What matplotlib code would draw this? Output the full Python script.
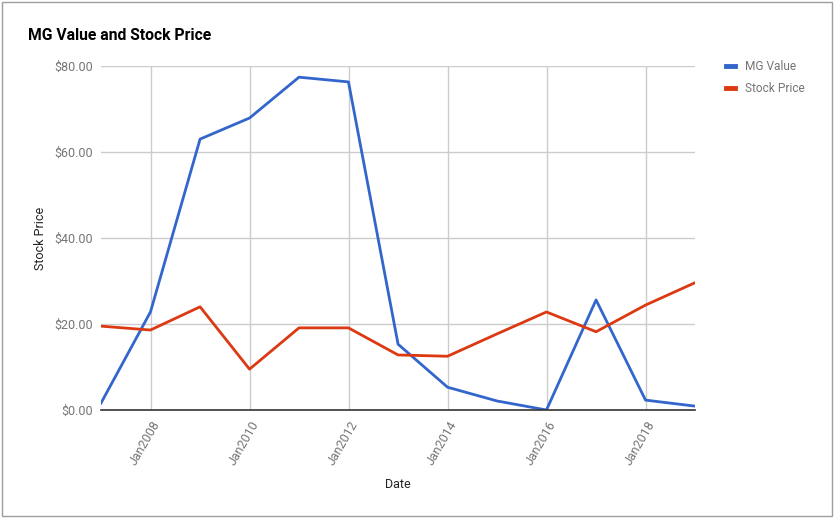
import datetime as dt
import matplotlib
matplotlib.use("Agg")
import matplotlib.pyplot as plt
from matplotlib.patches import Rectangle

plt.rcParams['font.family'] = ['Roboto', 'DejaVu Sans']

# data (values at year end)
years = list(range(2006, 2019))
mg_value = [1.6, 22.8, 63.0, 67.9, 77.4, 76.3, 15.3, 5.3, 2.1, 0.0, 25.6, 2.3, 0.9]
stock_price = [19.5, 18.6, 24.0, 9.5, 19.1, 19.1, 12.8, 12.5, 17.7, 22.8, 18.2, 24.4, 29.6]
y_ticks = [0, 20, 40, 60, 80]
x_tick_years = [2008, 2010, 2012, 2014, 2016, 2018]

dates = [dt.date(y, 12, 27) for y in years]

W, H = 835, 519
fig = plt.figure(figsize=(W / 100, H / 100), dpi=100)
fig.patches.append(Rectangle((2 / W, 3 / H), 830 / W, 514 / H, transform=fig.transFigure,
                             fill=False, edgecolor='#9e9e9e', linewidth=1))

ax = fig.add_axes([101 / W, 1 - 410 / H, (695 - 101) / W, (410 - 66) / H])

ax.plot(dates, mg_value, color='#3366cc', linewidth=2, label='MG Value')
ax.plot(dates, stock_price, color='#dc3912', linewidth=2, label='Stock Price')

ax.set_xlim(dates[0], dates[-1])
ax.set_ylim(0, 80)
ax.set_yticks(y_ticks)
ax.set_yticklabels(['${:.2f}'.format(v) for v in y_ticks])
ax.set_xticks([dt.date(y, 1, 1) for y in x_tick_years])
ax.set_xticklabels(['Jan{}'.format(y) for y in x_tick_years], rotation=60,
                   ha='right', va='top', rotation_mode='anchor')

ax.grid(True, color='#cccccc', linewidth=1)
ax.set_axisbelow(True)
for s in ['top', 'right', 'left']:
    ax.spines[s].set_visible(False)
ax.spines['bottom'].set_color('#333333')
ax.spines['bottom'].set_linewidth(1.2)
ax.tick_params(length=0, labelsize=9, labelcolor='#757575', pad=6)

ax.set_ylabel('Stock Price', fontsize=9, color='#222222', labelpad=5)
ax.set_xlabel('Date', fontsize=9, color='#222222', labelpad=8)

fig.text(28 / W, 1 - 36 / H, 'MG Value and Stock Price', fontsize=11.3, fontweight='bold',
         color='#000000', va='center', ha='left')

leg = ax.legend(loc='upper left', bbox_to_anchor=(721 / W, 1 - 55 / H), bbox_transform=fig.transFigure,
                frameon=False, fontsize=8.6, handlelength=0.75, handletextpad=0.9, labelspacing=0.75,
                borderaxespad=0)
for t in leg.get_texts():
    t.set_color('#757575')
for l in leg.get_lines():
    l.set_linewidth(3.5)

fig.savefig('out.png', dpi=100)
